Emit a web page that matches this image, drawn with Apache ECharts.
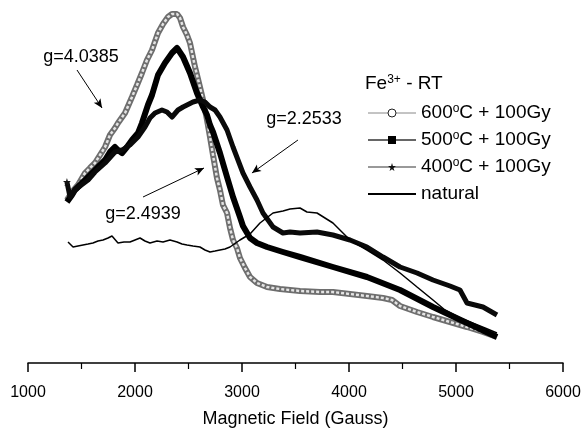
<!DOCTYPE html>
<html>
<head>
<meta charset="utf-8">
<script src="https://cdn.jsdelivr.net/npm/echarts@6/dist/echarts.min.js"></script>
<style>
html,body{margin:0;padding:0;background:#fff;}
#chart{width:584px;height:435px;}
</style>
</head>
<body>
<div id="chart"></div>
<script>
// Magnetic field (Gauss) and EPR intensity (arbitrary units)
const field600 = [1364,1411,1467,1533,1579,1626,1673,1720,1766,1813,1841,1907,1972,2019,2065,2112,2159,2215,2262,2308,2346,2393,2421,2449,2486,2514,2561,2607,2636,2673,2701,2729,2766,2794,2822,2860,2888,2916,2953,2981,3028,3075,3140,3234,3355,3542,3729,3850,4009,4168,4318,4402,4477,4636,4785,4944,5103,5252,5383];
const int600 = [163,171,178,190,195,200,208,216,228,235,240,250,266,278,290,303,313,330,339,346,349,349,345,336,328,320,296,276,263,243,226,208,185,173,158,150,135,123,115,105,95,86,80,76,74,72,71,71,69,67,65,63,57,51,46,41,36,31,26];

const field500 = [1364,1411,1439,1486,1561,1626,1720,1766,1813,1841,1879,1925,1972,2028,2065,2121,2159,2215,2280,2346,2393,2449,2514,2579,2636,2673,2701,2729,2794,2860,2916,2981,3009,3075,3140,3234,3383,3542,3850,4168,4477,4785,5103,5383];
const int500 = [161,168,173,178,186,193,203,211,216,213,210,216,223,230,240,258,268,288,300,310,315,306,290,270,256,248,238,231,210,186,166,146,137,125,120,116,111,106,96,86,73,56,40,26];

const field400 = [1364,1393,1439,1486,1561,1626,1720,1813,1879,1953,2028,2093,2140,2187,2252,2299,2346,2402,2449,2542,2607,2654,2701,2748,2794,2860,2916,3009,3075,3140,3196,3290,3383,3449,3542,3701,3850,4009,4168,4318,4477,4636,4785,4944,5037,5103,5178,5252,5383];
const int400 = [181,166,173,177,183,191,200,211,213,218,226,236,245,250,253,251,246,253,256,261,263,261,256,253,246,233,216,190,176,163,150,136,130,131,130,131,128,123,116,106,96,90,83,77,73,60,58,56,48];

const fieldNat = [1374,1421,1467,1514,1561,1607,1654,1701,1748,1785,1841,1897,1953,2000,2047,2093,2140,2206,2262,2327,2393,2439,2486,2542,2607,2654,2701,2748,2794,2841,2888,2981,3075,3168,3290,3383,3449,3542,3607,3701,3850,4009,4168,4318,4477,4636,4785,4897,5037,5178,5271,5383];
const intNat = [121,116,117,118,119,120,122,123,125,127,120,121,121,123,125,122,120,122,121,123,121,119,118,117,116,113,111,112,113,114,116,123,129,140,150,152,154,155,151,150,140,123,113,103,90,76,63,53,45,39,35,30];

const seriesNames = ['600°C + 100Gy','500°C + 100Gy','400°C + 100Gy','natural'];
const xTicks = [1000,2000,3000,4000,5000,6000];
// annotations
const annoLabels = ['g=4.0385','g=2.4939','g=2.2533'];
const annoText = [[1495,306],[2075,149],[3579,244]];
const annoArrowFrom = [[1458,293],[2075,166],[3523,223]];
const annoArrowTo = [[1692,255],[2645,195],[3093,190]];

function zip(a,b){return a.map((v,i)=>[v,b[i]]);}

const starPath = 'path://M50,0 L61,35 L98,35 L68,57 L79,91 L50,70 L21,91 L32,57 L2,35 L39,35 Z';
const FONT = 'Liberation Sans, Arial, sans-serif';
const supStyle = {fontSize:12,verticalAlign:'top',lineHeight:20,fontFamily:FONT,color:'#000'};

const chart = echarts.init(document.getElementById('chart'), null, {renderer:'canvas'});
chart.setOption({
  animation:false,
  backgroundColor:'#fff',
  grid:{left:28,right:21,top:0,bottom:72},
  title:{
    text:'Fe{s|3+} - RT',
    left:365, top:74, padding:0,
    textStyle:{fontFamily:FONT,fontSize:19,fontWeight:'normal',color:'#000',lineHeight:20,
      rich:{s:supStyle}}
  },
  legend:{
    orient:'vertical', left:367, top:103, padding:0,
    itemWidth:48, itemHeight:10, itemGap:7,
    data:[
      {name:seriesNames[0], itemStyle:{color:'#fff',borderColor:'#222',borderWidth:1}, lineStyle:{color:'#888',width:1}},
      {name:seriesNames[1], itemStyle:{color:'#000',borderWidth:0}, lineStyle:{color:'#333',width:1.5}},
      {name:seriesNames[2], itemStyle:{color:'#111',borderWidth:0}, lineStyle:{color:'#777',width:1.5}},
      {name:seriesNames[3], itemStyle:{opacity:0}, lineStyle:{color:'#000',width:2}}
    ],
    formatter:function(n){return n.replace('°','{s|o}');},
    textStyle:{fontFamily:FONT,fontSize:19,color:'#000',lineHeight:20,rich:{s:supStyle}},
    selectedMode:false
  },
  xAxis:{
    type:'value', min:1000, max:6000, interval:1000,
    name:'Magnetic Field (Gauss)', nameLocation:'middle', nameGap:47,
    nameTextStyle:{fontFamily:FONT,fontSize:18,color:'#000'},
    axisLine:{show:true,onZero:false,lineStyle:{color:'#000',width:1.5}},
    axisTick:{show:true,length:9,lineStyle:{color:'#000',width:1.5}},
    minorTick:{show:true,splitNumber:2,length:6,lineStyle:{color:'#000',width:1.2}},
    splitLine:{show:false},
    axisLabel:{fontFamily:FONT,fontSize:16,color:'#000',margin:22,
      formatter:function(v){return xTicks.indexOf(v)>=0?String(v):'';}}
  },
  yAxis:{type:'value',min:0,max:363,show:false},
  series:[
    {name:seriesNames[0],type:'line',data:zip(field600,int600),symbol:'circle',showSymbol:false,
     lineStyle:{color:'#6e6e6e',width:6},itemStyle:{color:'#6e6e6e'},z:2},
    {name:'600 inner',type:'line',data:zip(field600,int600),symbol:'none',
     lineStyle:{color:'#e4e4e4',width:2.5,type:[3,2]},z:3,silent:true},
    {name:seriesNames[1],type:'line',data:zip(field500,int500),symbol:'rect',showSymbol:false,
     lineStyle:{color:'#000',width:6,join:'round'},itemStyle:{color:'#000'},z:4},
    {name:seriesNames[2],type:'line',data:zip(field400,int400),symbol:starPath,showSymbol:true,
     symbolSize:function(v,p){return p.dataIndex===0?8:0;},
     lineStyle:{color:'#0a0a0a',width:5,join:'round'},itemStyle:{color:'#111'},z:5},
    {name:seriesNames[3],type:'line',data:zip(fieldNat,intNat),symbol:'circle',showSymbol:false,
     lineStyle:{color:'#000',width:1.5},itemStyle:{color:'#000'},z:6,
     markLine:{silent:true,symbol:['none','arrow'],symbolSize:[6,9],
       lineStyle:{color:'#000',width:1,type:'solid'},label:{show:false},
       data:annoArrowFrom.map((f,i)=>[{coord:f},{coord:annoArrowTo[i]}])},
     markPoint:{silent:true,symbol:'circle',symbolSize:1,itemStyle:{color:'rgba(0,0,0,0)'},
       label:{show:true,position:'inside',fontFamily:FONT,fontSize:18,color:'#000'},
       data:annoText.map((c,i)=>({coord:c,value:annoLabels[i],label:{formatter:annoLabels[i]}}))}
    }
  ]
});
</script>
</body>
</html>
